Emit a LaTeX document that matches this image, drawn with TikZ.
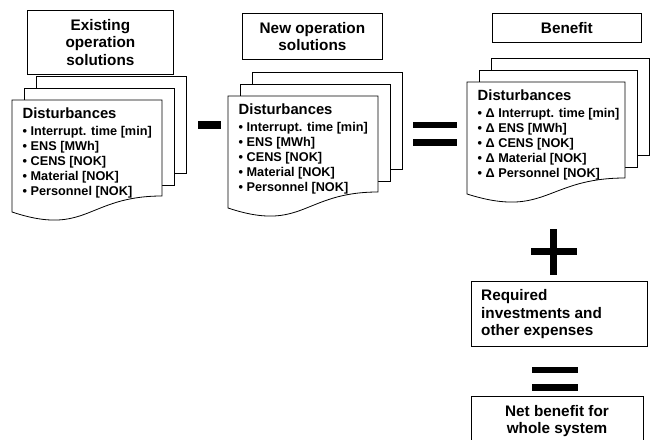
\documentclass[tikz,border=0pt]{standalone}
\usepackage{fontspec}
\setmainfont{Liberation Sans}
\newcommand\ttlfont{\bfseries\fontsize{15.3}{17.5}\selectfont}
\newcommand\hdfont{\bfseries\fontsize{14.8}{16}\selectfont}
\newcommand\lstfont{\bfseries\fontsize{12.7}{15}\selectfont}
\tikzset{
  x=1pt, y=-1pt,
  page/.style={draw=black, line width=0.8pt, fill=white},
  box/.style={draw=black, line width=0.8pt, fill=white, rectangle, inner sep=0pt},
  ttl/.style={font=\ttlfont, align=center, inner sep=0pt},
  head/.style={font=\hdfont, inner sep=0pt},
  item/.style={font=\lstfont, inner sep=0pt},
  op/.style={fill=black, draw=none}
}
% stack of three document sheets: name, left x, top y, width, list entries
\newcommand\docstack[5]{%
  \draw[page] ({#2+24},{#3-24}) rectangle ++(#4,97);
  \draw[page] ({#2+12},{#3-12}) rectangle ++(#4,97);
  \draw[page] (#2,#3) -- ++(#4,0) -- ++(0,96)
    .. controls ({#2+#4/2},{#3+96}) and ({#2+#4/2},{#3+137}) .. ({#2},{#3+112}) -- cycle;
  \node[head, anchor=base west] (#1-head) at ({#2+10.5},{#3+18.2}) {Disturbances};
  \foreach \t [count=\i] in {#5}
    \node[item, anchor=base west] (#1-\i) at ({#2+10.5},{#3+35.6+15*(\i-1)}) {\t};
}
\begin{document}
\begin{tikzpicture}
\useasboundingbox[fill=white] (0,0) rectangle (653,439);

% existing solutions
\node[box, minimum width=146pt, minimum height=64pt, anchor=north west] (exbox) at (27,10) {};
\node[ttl] (extitle) at (exbox.center) {Existing\\operation\\solutions};
\docstack{ex}{12}{100}{150}{• Interrupt. time [min], • ENS [MWh], • CENS [NOK], • Material [NOK], • Personnel [NOK]}

% minus
\fill[op] (198,121) rectangle (221,129);

% new solutions
\node[box, minimum width=140pt, minimum height=46pt, anchor=north west] (nwbox) at (242,13) {};
\node[ttl] (nwtitle) at (nwbox.center) {New operation\\solutions};
\docstack{nw}{228}{96}{150}{• Interrupt. time [min], • ENS [MWh], • CENS [NOK], • Material [NOK], • Personnel [NOK]}

% equals
\fill[op] (413,122) rectangle (457,128);
\fill[op] (413,139) rectangle (457,146);

% benefit
\node[box, minimum width=149pt, minimum height=29pt, anchor=north west] (bfbox) at (492,13) {};
\node[ttl] (bftitle) at (bfbox.center) {Benefit};
\docstack{bf}{467}{82}{158}{• Δ Interrupt. time [min], • Δ ENS [MWh], • Δ CENS [NOK], • Δ Material [NOK], • Δ Personnel [NOK]}

% plus
\fill[op] (550,229) rectangle (557,275);
\fill[op] (531,248) rectangle (577,255);

% investments
\node[box, minimum width=176pt, minimum height=65pt, anchor=north west] (invbox) at (471,281) {};
\node[ttl, align=left, anchor=west] (invtxt) at (481,314.5) {Required\\investments and\\other expenses};

% equals
\fill[op] (532,367) rectangle (578,373);
\fill[op] (532,384) rectangle (578,391);

% net benefit
\coordinate (nbl) at (471,440);
\coordinate (nbr) at (643,440);
\draw[line width=0.8pt] (nbl) -- (471,396) -- (643,396) -- (nbr);
\node[ttl] (nbtxt) at (557,421) {Net benefit for\\whole system};
\end{tikzpicture}
\end{document}
